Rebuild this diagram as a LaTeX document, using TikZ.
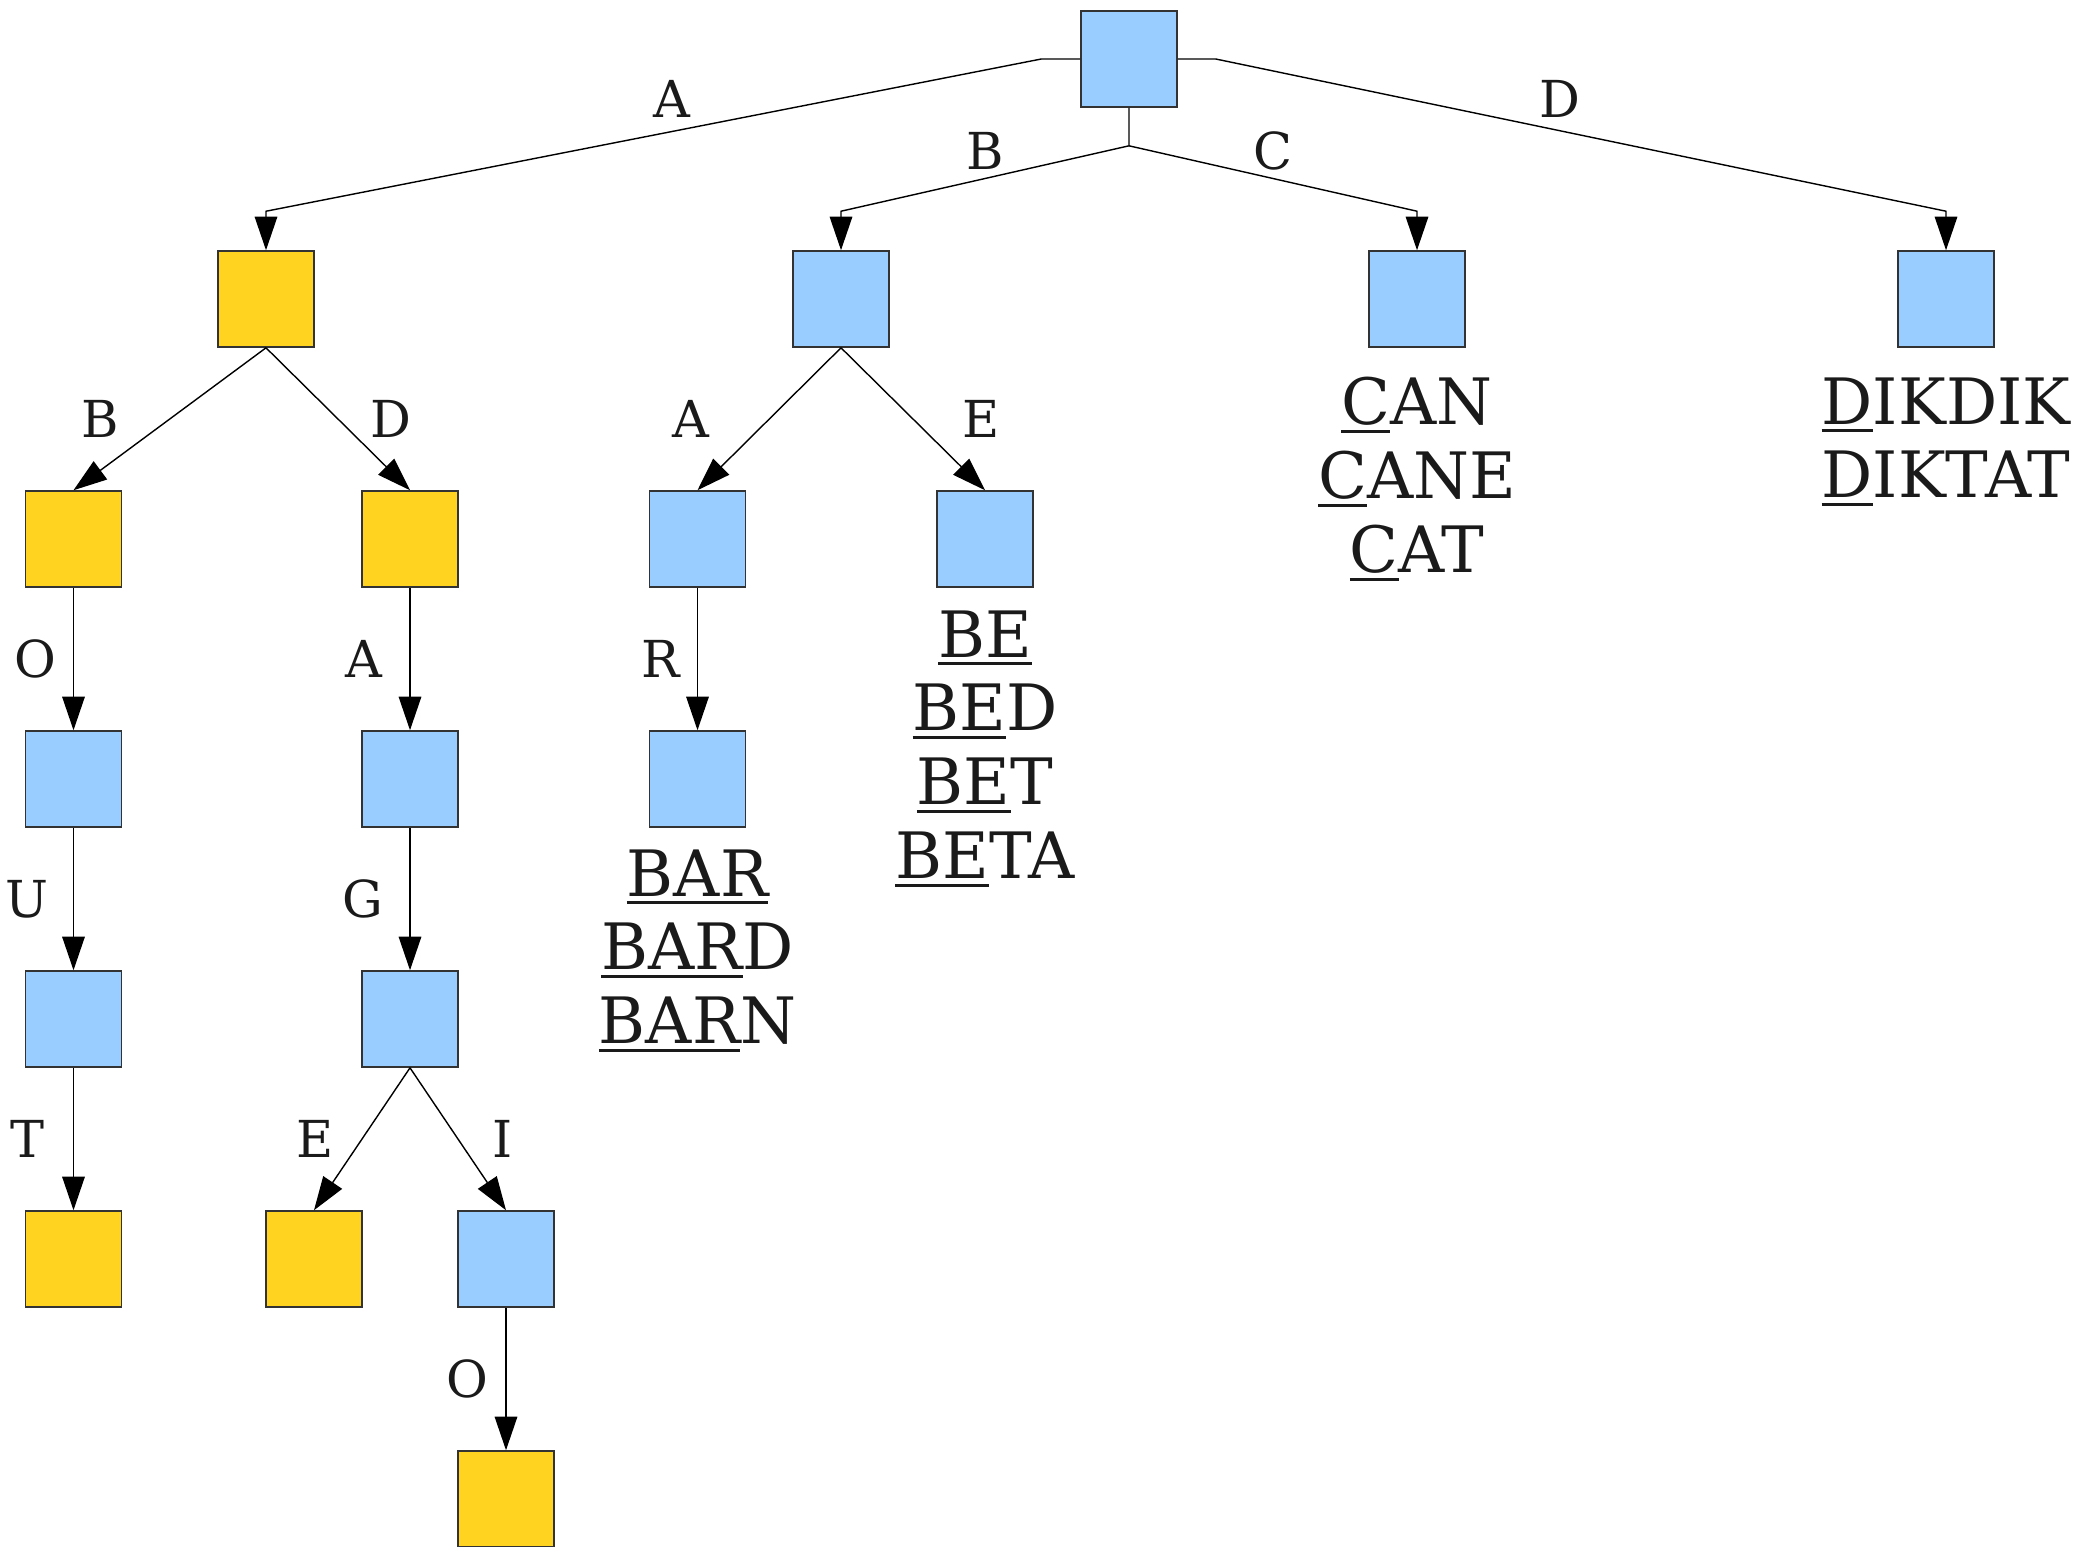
\documentclass[tikz,border=0pt]{standalone}
\usepackage{fontspec}
\setmainfont{DejaVu Serif}
\usepackage{tikz}
\usetikzlibrary{arrows.meta,positioning}
\usepackage{xcolor}
\definecolor{trieblue}{RGB}{153,204,255}
\definecolor{triegold}{RGB}{255,211,32}
\definecolor{trietext}{RGB}{26,26,26}
\tikzstyle{basebox} = [draw=black!80, line width=0.45pt, minimum size=9.6mm, inner sep=0pt]
\tikzstyle{bluebox} = [basebox, fill=trieblue]
\tikzstyle{goldbox} = [basebox, fill=triegold]
\tikzstyle{arrow} = [line width=0.4pt, ->, >={Triangle[length=3.35mm,width=2.25mm]}]
\tikzstyle{lbl} = [text=trietext, font=\fontsize{14.5}{17}\selectfont, inner sep=0pt]
\tikzstyle{words} = [text=trietext, font=\fontsize{18.2}{21}\selectfont, align=center, inner sep=0pt]
% underlined prefix of a word
\newcommand{\pfx}[1]{\setbox0\hbox{#1}\rlap{\rule[-0.125em]{\wd0}{0.045em}}\box0}

\begin{document}
\begin{tikzpicture}
\useasboundingbox (0,0) rectangle (20.93,-15.46);

% Root and first letters
\node[bluebox] (root) at (11.29,-0.59) {};
\node[goldbox] (a) at (2.66,-2.99) {};
\node[bluebox] (b) at (8.41,-2.99) {};
\node[bluebox] (c) at (14.17,-2.99) {};
\node[bluebox] (d) at (19.46,-2.99) {};

% A subtree
\node[goldbox] (ab) at (0.735,-5.39) {};
\node[goldbox] (ad) at (4.10,-5.39) {};
\node[bluebox] (abo) at (0.735,-7.79) {};
\node[bluebox] (ada) at (4.10,-7.79) {};
\node[bluebox] (abou) at (0.735,-10.19) {};
\node[bluebox] (adag) at (4.10,-10.19) {};
\node[goldbox] (about) at (0.735,-12.59) {};
\node[goldbox] (adage) at (3.14,-12.59) {};
\node[bluebox] (adagi) at (5.06,-12.59) {};
\node[goldbox] (adagio) at (5.06,-14.99) {};

% B subtree
\node[bluebox] (ba) at (6.975,-5.39) {};
\node[bluebox] (be) at (9.85,-5.39) {};
\node[bluebox] (bar) at (6.975,-7.79) {};

% Word lists
\node[words, below=2.1mm of bar] (barwords) {\pfx{BAR}\\\pfx{BAR}D\\\pfx{BAR}N};
\node[words, below=2.2mm of be] (bewords) {\pfx{BE}\\\pfx{BE}D\\\pfx{BE}T\\\pfx{BE}TA};
\node[words, below=2.9mm of c] (cwords) {\pfx{C}AN\\\pfx{C}ANE\\\pfx{C}AT};
\node[words, below=2.9mm of d] (dwords) {\pfx{D}IKDIK\\\pfx{D}IKTAT};

% Edges from the root
\coordinate[below=3.8mm of root] (fork);
\draw[arrow] (root.west) -- ++(-0.39,0) -- node[lbl, midway, xshift=1.85mm, yshift=3.6mm] {A} ([yshift=3.9mm]a.north) -- (a.north);
\draw[arrow] (root.south) -- (fork) -- node[lbl, midway, yshift=2.75mm] {B} ([yshift=3.9mm]b.north) -- (b.north);
\draw[arrow] (fork) -- node[lbl, midway, yshift=2.75mm] {C} ([yshift=3.9mm]c.north) -- (c.north);
\draw[arrow] (root.east) -- ++(0.38,0) -- node[lbl, midway, xshift=-2.05mm, yshift=3.6mm] {D} ([yshift=3.9mm]d.north) -- (d.north);

% Edges below A
\draw[arrow] (a.south) -- node[lbl, midway, xshift=-6.95mm] {B} (ab.north);
\draw[arrow] (a.south) -- node[lbl, midway, xshift=5.3mm] {D} (ad.north);
\draw[arrow] (ab) -- node[lbl, midway, xshift=-3.85mm] {O} (abo);
\draw[arrow] (ad) -- node[lbl, midway, xshift=-4.65mm] {A} (ada);
\draw[arrow] (abo) -- node[lbl, midway, xshift=-4.65mm] {U} (abou);
\draw[arrow] (ada) -- node[lbl, midway, xshift=-4.7mm] {G} (adag);
\draw[arrow] (abou) -- node[lbl, midway, xshift=-4.6mm] {T} (about);
\draw[arrow] (adag.south) -- node[lbl, midway, xshift=-4.7mm] {E} (adage.north);
\draw[arrow] (adag.south) -- node[lbl, midway, xshift=4.5mm] {I} (adagi.north);
\draw[arrow] (adagi) -- node[lbl, midway, xshift=-3.9mm] {O} (adagio);

% Edges below B
\draw[arrow] (b.south) -- node[lbl, midway, xshift=-7.8mm] {A} (ba.north);
\draw[arrow] (b.south) -- node[lbl, midway, xshift=6.8mm] {E} (be.north);
\draw[arrow] (ba) -- node[lbl, midway, xshift=-3.65mm] {R} (bar);
\end{tikzpicture}
\end{document}
